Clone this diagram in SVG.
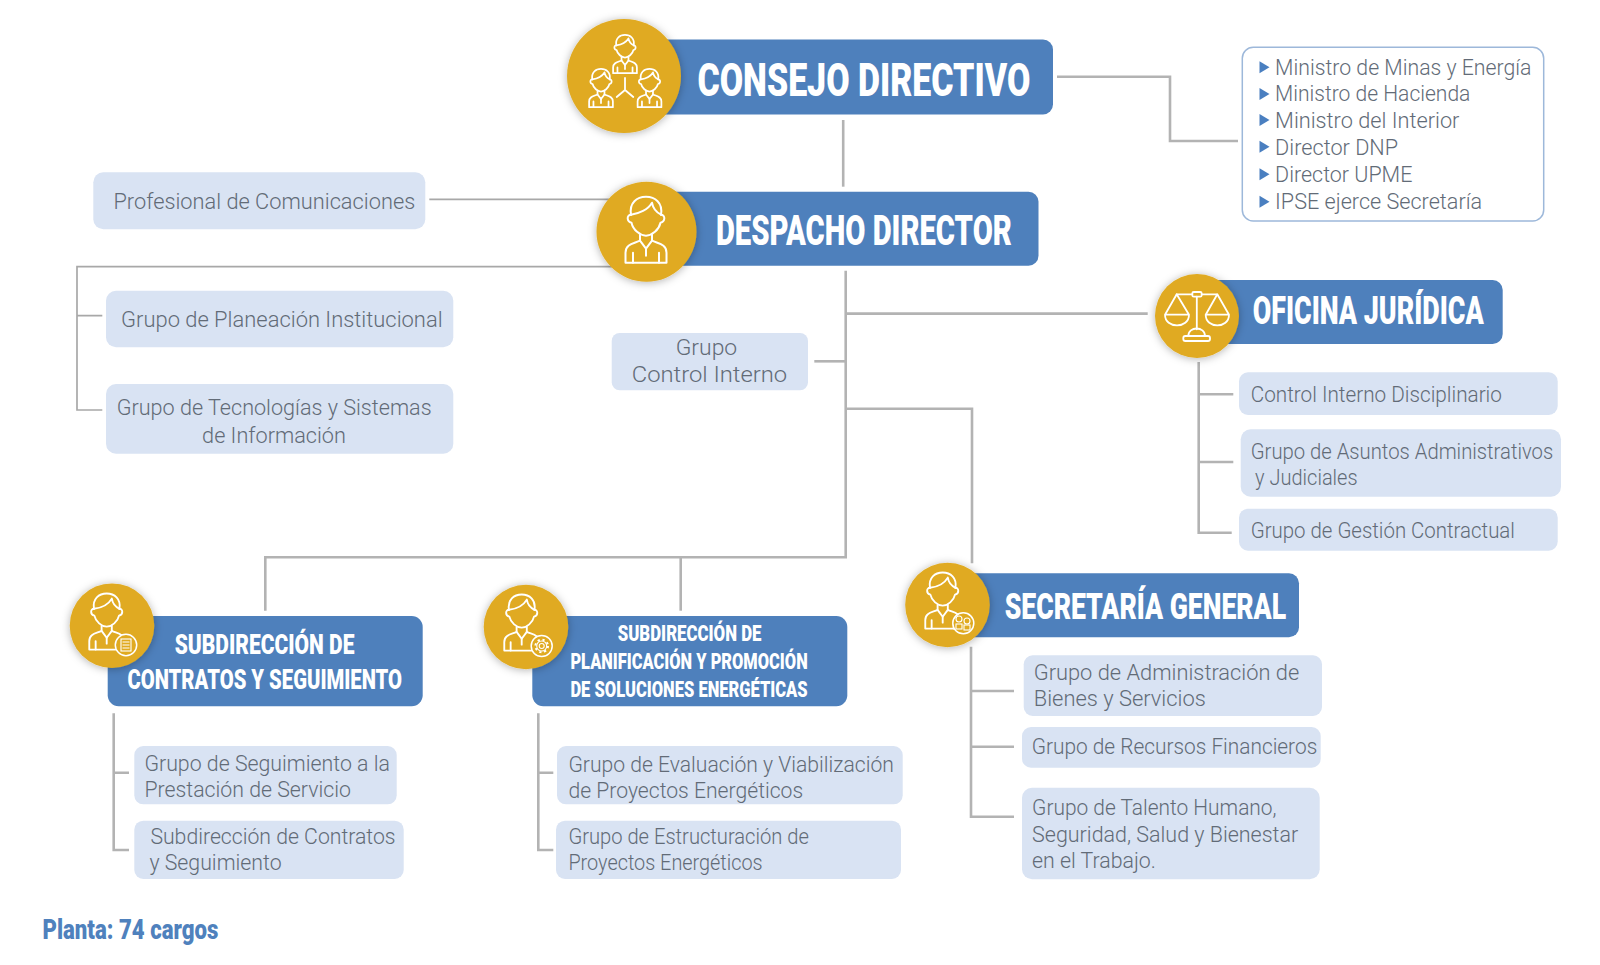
<svg xmlns="http://www.w3.org/2000/svg" width="1600" height="965" viewBox="0 0 1600 965">
<style>
.t{font-family:"Roboto","Liberation Sans",sans-serif;font-size:22px;fill:#626b77;font-weight:300;transform:translateX(-0.6px)}
.l{font-size:21.5px}
.h{font-family:"Roboto","Liberation Sans",sans-serif;font-weight:900;fill:#fff;transform:translateX(-0.6px)}
.box{fill:#d9e3f3}
.bar{fill:#4e80bc}
.disc{fill:#e0aa20;filter:url(#sh)}
.w{stroke:#b3b3b3;stroke-width:2.6;fill:none}
.n{stroke:#a8a8a8;stroke-width:1.7;fill:none}
.ic{fill:none;stroke:#fff;stroke-linejoin:round;stroke-linecap:round}
.bd{fill:#e0aa20;stroke:#fff;stroke-width:1.5}
.ib{fill:none;stroke:#fff;stroke-width:1.1}
</style>
<defs>
<filter id="sh" x="-30%" y="-30%" width="160%" height="160%"><feDropShadow dx="0" dy="1" stdDeviation="4" flood-color="#000" flood-opacity="0.3"/></filter>
<g id="person">
<path d="M-15,-2C-17,-14 -9,-20 0,-20C9,-20 17,-14 15,-2"/>
<path d="M-15,-2C-7,-3 2,-7 6,-14C7,-8 11,-4 15,-2"/>
<path d="M-15,-2C-19.500,-2 -19.500,5 -14.500,6C-13,13 -6,19 0,19C6,19 13,13 14.500,6C19.500,5 19.500,-2 15,-2"/>
<path d="M-6,18V24L0,32L6,24V18"/>
<path d="M-6,24C-12,27 -20.500,27 -20.500,36V46H20.500V36C20.500,27 12,27 6,24"/>
<path d="M0,32V39M-13,36V46M13,36V46"/>
</g>
<polygon id="tri" points="0,-6 10,0 0,6" fill="#4a7fc0"/>
</defs>

<g id="connectors">
<path class="w" d="M1057,76.700H1170V141H1238"/>
<path class="w" d="M843.200,120V186.700"/>
<path class="n" d="M429.300,199.300H640"/>
<path class="n" d="M640,266.700H77V410H102.300M77,315.700H102.300"/>
<path class="w" d="M845.700,270.700V557.300H265.300V610.700"/>
<path class="w" d="M845.700,313.600H1147.700"/>
<path class="w" d="M814.300,361.300H845.700"/>
<path class="w" d="M845.700,408.800H972V563.300"/>
<path class="w" d="M680.700,557.300V610.700"/>
<path class="w" d="M1198.700,362V532.700H1231.700M1198.700,394.300H1233.300M1198.700,462H1233.300"/>
<path class="w" d="M971,646.700V816.700H1014M971,691H1014M971,746.700H1014"/>
<path class="w" d="M113.700,713.300V850H129M113.700,772.700H129"/>
<path class="w" d="M538.300,713.300V850H553.300M538.300,772.700H553.300"/>
</g>

<g id="consejo">
<rect class="bar" x="620" y="39.500" width="433" height="75" rx="10"/>
<circle class="disc" cx="624" cy="76" r="57"/>
<g class="ic" stroke-width="3">
<use href="#person" transform="translate(625,46.500) scale(0.58)"/>
<use href="#person" transform="translate(601,80.500) scale(0.58)"/>
<use href="#person" transform="translate(649.500,80.500) scale(0.58)"/>
<path d="M625,78V90L616.700,97M625,90L633.300,97" stroke-width="1.800"/>
</g>
<text class="h" x="698" y="96" font-size="47" textLength="333" lengthAdjust="spacingAndGlyphs">CONSEJO DIRECTIVO</text>
</g>

<g id="consejo-miembros">
<rect x="1242.300" y="47.300" width="301.400" height="173.700" rx="11" fill="#fff" stroke="#9db8da" stroke-width="1.500"/>
<use href="#tri" x="1259.500" y="67.300"/><use href="#tri" x="1259.500" y="94"/><use href="#tri" x="1259.500" y="120"/><use href="#tri" x="1259.500" y="146.700"/><use href="#tri" x="1259.500" y="174.300"/><use href="#tri" x="1259.500" y="201.700"/>
<text class="t l" x="1275.700" y="74.500" textLength="256.300" lengthAdjust="spacingAndGlyphs">Ministro de Minas y Energía</text>
<text class="t l" x="1275.700" y="101" textLength="195.300" lengthAdjust="spacingAndGlyphs">Ministro de Hacienda</text>
<text class="t l" x="1275.700" y="128" textLength="184.300" lengthAdjust="spacingAndGlyphs">Ministro del Interior</text>
<text class="t l" x="1275.700" y="154.700" textLength="123" lengthAdjust="spacingAndGlyphs">Director DNP</text>
<text class="t l" x="1275.700" y="182" textLength="137.300" lengthAdjust="spacingAndGlyphs">Director UPME</text>
<text class="t l" x="1275.700" y="209" textLength="207" lengthAdjust="spacingAndGlyphs">IPSE ejerce Secretaría</text>
</g>

<g id="despacho">
<rect class="bar" x="640" y="191.700" width="398.500" height="74" rx="10"/>
<circle class="disc" cx="646.500" cy="231.700" r="50"/>
<use class="ic" href="#person" stroke-width="2" transform="translate(646,216.700)"/>
<text class="h" x="716.500" y="245" font-size="43" textLength="296" lengthAdjust="spacingAndGlyphs">DESPACHO DIRECTOR</text>
</g>

<g id="profesional">
<rect class="box" x="93.300" y="172.300" width="332" height="57" rx="10"/>
<text class="t" x="114" y="209.300" textLength="301.800" lengthAdjust="spacingAndGlyphs">Profesional de Comunicaciones</text>
</g>
<g id="planeacion">
<rect class="box" x="106" y="290.700" width="347.300" height="56.600" rx="10"/>
<text class="t" x="121.700" y="326.700" textLength="321.500" lengthAdjust="spacingAndGlyphs">Grupo de Planeación Institucional</text>
</g>
<g id="tecnologias">
<rect class="box" x="106" y="384" width="347.300" height="69.700" rx="10"/>
<text class="t" x="117.300" y="415" textLength="314.900" lengthAdjust="spacingAndGlyphs">Grupo de Tecnologías y Sistemas</text>
<text class="t" x="202.700" y="443.300" textLength="143.800" lengthAdjust="spacingAndGlyphs">de Información</text>
</g>
<g id="control-interno">
<rect class="box" x="611.700" y="333" width="196.300" height="57.300" rx="8"/>
<text class="t" x="676.300" y="355" textLength="61.500" lengthAdjust="spacingAndGlyphs">Grupo</text>
<text class="t" x="632.300" y="381.700" textLength="155.500" lengthAdjust="spacingAndGlyphs">Control Interno</text>
</g>

<g id="oficina">
<rect class="bar" x="1195" y="280" width="307.700" height="64" rx="10"/>
<circle class="disc" cx="1197" cy="316" r="42"/>
<g class="ic" stroke-width="1.800">
<rect x="1192.300" y="292" width="9.400" height="4.700" rx="1.500"/>
<path d="M1176.700,294.300H1192.300M1201.700,294.300H1216.700M1196.800,296.700V329.300"/>
<path d="M1165,314.700L1176.700,294.300L1189,314.700ZM1165,314.700C1165,329 1189,329 1189,314.700"/>
<path d="M1205.700,314.700L1217.300,294.300L1229,314.700ZM1205.700,314.700C1205.700,329 1229,329 1229,314.700"/>
<path d="M1188.300,336C1188.300,326 1205,326 1205,336Z"/>
<rect x="1183.300" y="336" width="26.700" height="5" rx="2"/>
</g>
<text class="h" x="1253.300" y="324" font-size="38.500" textLength="231" lengthAdjust="spacingAndGlyphs">OFICINA JURÍDICA</text>
</g>
<g id="disciplinario">
<rect class="box" x="1239" y="372.300" width="318.700" height="42.700" rx="9"/>
<text class="t" x="1251.300" y="402" textLength="251.200" lengthAdjust="spacingAndGlyphs">Control Interno Disciplinario</text>
</g>
<g id="asuntos">
<rect class="box" x="1240.700" y="429.300" width="320.300" height="67.400" rx="10"/>
<text class="t" x="1251.300" y="458.700" textLength="302.500" lengthAdjust="spacingAndGlyphs">Grupo de Asuntos Administrativos</text>
<text class="t" x="1255.700" y="485" textLength="102.500" lengthAdjust="spacingAndGlyphs">y Judiciales</text>
</g>
<g id="contractual">
<rect class="box" x="1239" y="508.700" width="318.700" height="42" rx="9"/>
<text class="t" x="1251.300" y="537.700" textLength="264.200" lengthAdjust="spacingAndGlyphs">Grupo de Gestión Contractual</text>
</g>

<g id="secretaria">
<rect class="bar" x="945" y="573.300" width="354" height="64" rx="10"/>
<circle class="disc" cx="947.500" cy="605" r="42.300"/>
<use class="ic" href="#person" stroke-width="2.200" transform="translate(942.700,589.500) scale(0.85)"/>
<circle class="bd" cx="963.300" cy="623.300" r="10.500"/>
<g class="ib"><circle cx="959" cy="619" r="3"/><circle cx="967" cy="621" r="3"/><rect x="956" y="624" width="6" height="5"/><rect x="964" y="625" width="6" height="5"/></g>
<text class="h" x="1005.300" y="619.300" font-size="37.500" textLength="281.400" lengthAdjust="spacingAndGlyphs">SECRETARÍA GENERAL</text>
</g>
<g id="bienes">
<rect class="box" x="1023.700" y="655.300" width="298.300" height="60.700" rx="9"/>
<text class="t" x="1034.300" y="680" textLength="265.500" lengthAdjust="spacingAndGlyphs">Grupo de Administración de</text>
<text class="t" x="1034.300" y="706" textLength="172.200" lengthAdjust="spacingAndGlyphs">Bienes y Servicios</text>
</g>
<g id="financieros">
<rect class="box" x="1022" y="727" width="298.700" height="40.700" rx="9"/>
<text class="t" x="1032.300" y="753.800" textLength="285.500" lengthAdjust="spacingAndGlyphs">Grupo de Recursos Financieros</text>
</g>
<g id="talento">
<rect class="box" x="1022" y="787.700" width="297.700" height="91.600" rx="10"/>
<text class="t" x="1032.700" y="815.300" textLength="244.500" lengthAdjust="spacingAndGlyphs">Grupo de Talento Humano,</text>
<text class="t" x="1032.700" y="841.700" textLength="266.100" lengthAdjust="spacingAndGlyphs">Seguridad, Salud y Bienestar</text>
<text class="t" x="1032.700" y="867.700" textLength="123.800" lengthAdjust="spacingAndGlyphs">en el Trabajo.</text>
</g>

<g id="sub-contratos">
<rect class="bar" x="107.700" y="616" width="315" height="90.300" rx="11"/>
<circle class="disc" cx="112" cy="625.700" r="42.300"/>
<use class="ic" href="#person" stroke-width="2.200" transform="translate(106.700,610.500) scale(0.85)"/>
<circle class="bd" cx="126" cy="645" r="10.700"/>
<g class="ib"><rect x="121" y="639" width="10" height="12"/><path d="M122.500,642H129.500M122.500,645H129.500M122.500,648H129.500"/></g>
<text class="h" x="175.300" y="654" font-size="28.500" textLength="179.700" lengthAdjust="spacingAndGlyphs">SUBDIRECCIÓN DE</text>
<text class="h" x="128" y="689.300" font-size="28.500" textLength="274.700" lengthAdjust="spacingAndGlyphs">CONTRATOS Y SEGUIMIENTO</text>
</g>
<g id="seguimiento-prestacion">
<rect class="box" x="134.300" y="746" width="262.400" height="58.300" rx="9"/>
<text class="t" x="145" y="771" textLength="245.500" lengthAdjust="spacingAndGlyphs">Grupo de Seguimiento a la</text>
<text class="t" x="145" y="797" textLength="206.500" lengthAdjust="spacingAndGlyphs">Prestación de Servicio</text>
</g>
<g id="subdireccion-contratos">
<rect class="box" x="134.300" y="820.700" width="269.400" height="58.300" rx="9"/>
<text class="t" x="151" y="844.300" textLength="245.200" lengthAdjust="spacingAndGlyphs">Subdirección de Contratos</text>
<text class="t" x="150" y="870" textLength="132.200" lengthAdjust="spacingAndGlyphs">y Seguimiento</text>
</g>

<g id="sub-planificacion">
<rect class="bar" x="532.300" y="616" width="315" height="90.300" rx="11"/>
<circle class="disc" cx="526" cy="627" r="42.300"/>
<use class="ic" href="#person" stroke-width="2.200" transform="translate(521.700,611.500) scale(0.85)"/>
<circle class="bd" cx="541.700" cy="646" r="10.500"/>
<g class="ib"><circle cx="541.700" cy="646" r="2.500"/><circle cx="541.700" cy="646" r="5"/><circle cx="541.700" cy="646" r="6.300" stroke-width="2" stroke-dasharray="2.200 2.750"/></g>
<text class="h" x="618.300" y="640.700" font-size="22.500" textLength="143.700" lengthAdjust="spacingAndGlyphs">SUBDIRECCIÓN DE</text>
<text class="h" x="571" y="669" font-size="22.500" textLength="237.300" lengthAdjust="spacingAndGlyphs">PLANIFICACIÓN Y PROMOCIÓN</text>
<text class="h" x="571" y="697.300" font-size="22.500" textLength="237.300" lengthAdjust="spacingAndGlyphs">DE SOLUCIONES ENERGÉTICAS</text>
</g>
<g id="evaluacion">
<rect class="box" x="557" y="746" width="345.700" height="58.300" rx="9"/>
<text class="t" x="569" y="771.700" textLength="325.500" lengthAdjust="spacingAndGlyphs">Grupo de Evaluación y Viabilización</text>
<text class="t" x="569" y="797.800" textLength="234.800" lengthAdjust="spacingAndGlyphs">de Proyectos Energéticos</text>
</g>
<g id="estructuracion">
<rect class="box" x="556" y="820.700" width="345" height="58.300" rx="9"/>
<text class="t" x="569" y="844.300" textLength="240.500" lengthAdjust="spacingAndGlyphs">Grupo de Estructuración de</text>
<text class="t" x="569" y="870" textLength="194.200" lengthAdjust="spacingAndGlyphs">Proyectos Energéticos</text>
</g>

<text id="planta" x="42.500" y="939.300" font-family="Roboto, 'Liberation Sans', sans-serif" font-weight="900" font-size="28" fill="#4f81bd" textLength="175.800" lengthAdjust="spacingAndGlyphs">Planta: 74 cargos</text>
</svg>
